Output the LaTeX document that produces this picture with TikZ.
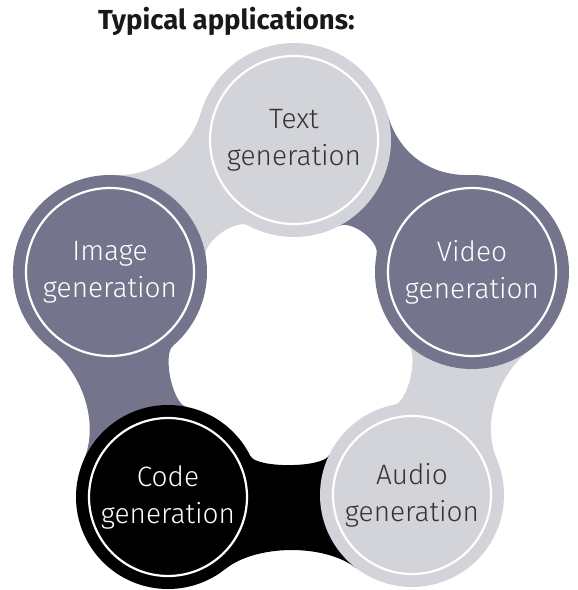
\documentclass[tikz,border=0pt]{standalone}
\usepackage{fontspec}
\setmainfont{Fira Sans}
\newfontfamily\lblfont{Fira Sans Light}
\usetikzlibrary{calc}
\definecolor{lightc}{HTML}{D3D4D9}
\definecolor{slatec}{HTML}{74748C}
\definecolor{darktxt}{HTML}{333333}
\pgfdeclarelayer{bg}
\pgfsetlayers{bg,main}
\def\tho{52}
\def\Lo{40pt}
\def\thi{26}
\def\Li{14pt}
% #1 node A, #2 node B, #3 radius A, #4 radius B, #5 colour
\newcommand\bridgeband[5]{%
  \path ($(#1)!#3!\tho:(#2)$) coordinate (pa1)
        ($(#2)!#4!-\tho:(#1)$) coordinate (pb1)
        ($(#2)!#4!\thi:(#1)$) coordinate (pb2)
        ($(#1)!#3!-\thi:(#2)$) coordinate (pa2);
  \fill[#5] (pa1) .. controls ($(pa1)!\Lo!90:(#1)$) and ($(pb1)!\Lo!-90:(#2)$) .. (pb1)
     -- (pb2) .. controls ($(pb2)!\Li!90:(#2)$) and ($(pa2)!\Li!-90:(#1)$) .. (pa2) -- cycle;
}
\tikzset{
  bubble/.style={circle, inner sep=0pt, minimum size=#1, align=center,
    font=\lblfont\fontsize{28}{37}\selectfont},
  ring/.style={draw=white, line width=2.2pt},
  titletext/.style={font=\bfseries\fontsize{27.5}{30}\selectfont, text=black!90, inner sep=0pt}
}
\begin{document}
\begin{tikzpicture}[x=1pt,y=-1pt]
\useasboundingbox (0,0) rectangle (578,590);
\node[titletext, anchor=base west] (title) at (98,29) {Typical applications:};

\node[bubble=194pt, fill=lightc, text=darktxt] (ntext)  at (294,140) {Text\\generation};
\node[bubble=194pt, fill=slatec, text=white]   (nimage) at (110,272) {Image\\generation};
\node[bubble=194pt, fill=slatec, text=white]   (nvideo) at (472,272) {Video\\generation};
\node[bubble=184pt, fill=black,  text=white]   (ncode)  at (168,497) {Code\\generation};
\node[bubble=184pt, fill=lightc, text=darktxt] (naudio) at (412,495) {Audio\\generation};

\draw[ring] (ntext.center)  circle[radius=84pt];
\draw[ring] (nimage.center) circle[radius=84pt];
\draw[ring] (nvideo.center) circle[radius=84pt];
\draw[ring] (ncode.center)  circle[radius=79pt];
\draw[ring] (naudio.center) circle[radius=79pt];

\begin{pgfonlayer}{bg}
  \bridgeband{ntext.center}{nvideo.center}{97pt}{97pt}{slatec}
  \bridgeband{nvideo.center}{naudio.center}{97pt}{92pt}{lightc}
  \bridgeband{naudio.center}{ncode.center}{92pt}{92pt}{black}
  \bridgeband{ncode.center}{nimage.center}{92pt}{97pt}{slatec}
  \bridgeband{nimage.center}{ntext.center}{97pt}{97pt}{lightc}
\end{pgfonlayer}
\end{tikzpicture}
\end{document}
